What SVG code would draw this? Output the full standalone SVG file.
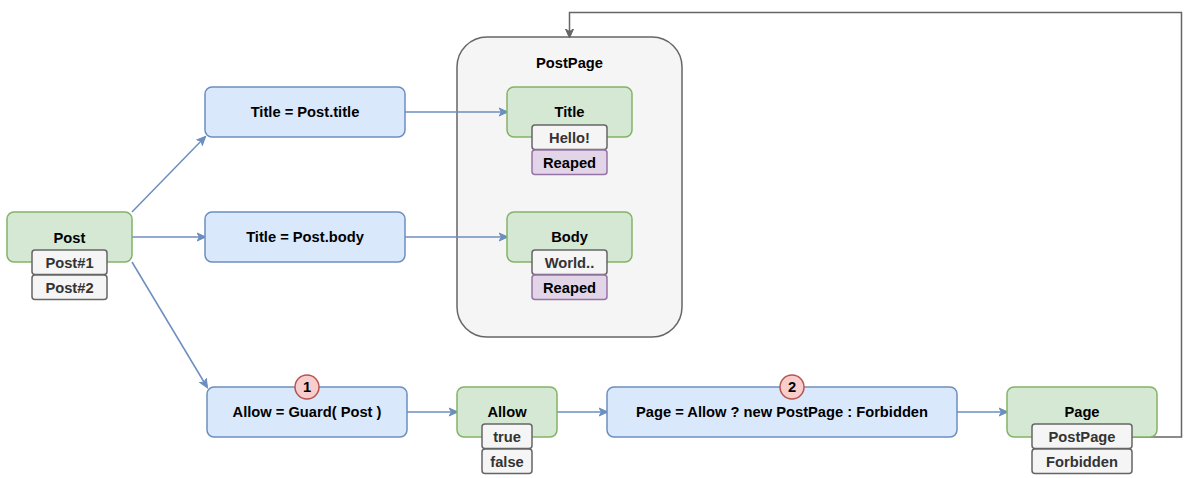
<svg xmlns="http://www.w3.org/2000/svg" width="1187" height="478" viewBox="0 0 1187 478">
<style>
text{font-family:"Liberation Sans",Arial,sans-serif;font-weight:bold;text-anchor:middle;dominant-baseline:central;}
.lbl{font-size:14.7px;fill:#000;}
.sm{font-size:14.7px;fill:#333;}
.blue{fill:#dae8fc;stroke:#6c8ebf;stroke-width:1.5;}
.green{fill:#d5e8d4;stroke:#82b366;stroke-width:1.5;}
.gray{fill:#f5f5f5;stroke:#666;stroke-width:1.5;}
.purple{fill:#e1d5e7;stroke:#9673a6;stroke-width:1.5;}
.badge{fill:#f8cecc;stroke:#b85450;stroke-width:1.5;}
.conn{fill:none;stroke:#6c8ebf;stroke-width:1.5;marker-end:url(#ab);}
.loop{fill:none;stroke:#666;stroke-width:1.5;marker-end:url(#ag);}
</style>
<defs>
<marker id="ab" markerWidth="10" markerHeight="10" refX="8" refY="5" orient="auto" markerUnits="userSpaceOnUse">
<path d="M0,1 L9,5 L0,9 L2.5,5 Z" fill="#6c8ebf" stroke="#6c8ebf" stroke-width="1"/>
</marker>
<marker id="ag" markerWidth="10" markerHeight="10" refX="8" refY="5" orient="auto" markerUnits="userSpaceOnUse">
<path d="M0,1 L9,5 L0,9 L2.5,5 Z" fill="#666" stroke="#666" stroke-width="1"/>
</marker>
</defs>
<rect width="1187" height="478" fill="#fff"/>

<g id="postpage-container">
<rect class="gray" x="457" y="37" width="225" height="300" rx="30"/>
<text class="lbl" x="569.5" y="63">PostPage</text>
</g>

<g id="connectors">
<path class="conn" d="M132,212 L205,137"/>
<path class="conn" d="M132,237 L205,237"/>
<path class="conn" d="M132,262 L207,387"/>
<path class="conn" d="M405,112 L507,112"/>
<path class="conn" d="M405,237 L507,237"/>
<path class="conn" d="M407,412 L457,412"/>
<path class="conn" d="M557,412 L607,412"/>
<path class="conn" d="M957,412 L1007,412"/>
<path class="loop" d="M1132,437 L1181.5,437 L1181.5,12.5 L569.5,12.5 L569.5,37"/>
</g>

<g id="post">
<rect class="green" x="7" y="212" width="125" height="50" rx="7"/>
<text class="lbl" x="69.5" y="238">Post</text>
<rect class="gray" x="32" y="250" width="75" height="24.5" rx="3"/>
<text class="sm" x="69.5" y="262.5">Post#1</text>
<rect class="gray" x="32" y="275" width="75" height="24.5" rx="3"/>
<text class="sm" x="69.5" y="287.5">Post#2</text>
</g>

<g id="title-expr">
<rect class="blue" x="205" y="87" width="200" height="50" rx="7"/>
<text class="lbl" x="305" y="112">Title = Post.title</text>
</g>

<g id="body-expr">
<rect class="blue" x="205" y="212" width="200" height="50" rx="7"/>
<text class="lbl" x="305" y="237">Title = Post.body</text>
</g>

<g id="title">
<rect class="green" x="507" y="87" width="125" height="50" rx="7"/>
<text class="lbl" x="569.5" y="112">Title</text>
<rect class="gray" x="532" y="125" width="75" height="24.5" rx="3"/>
<text class="sm" x="569.5" y="137.5">Hello!</text>
<rect class="purple" x="532" y="150" width="75" height="24.5" rx="3"/>
<text class="lbl" x="569.5" y="162.5">Reaped</text>
</g>

<g id="body">
<rect class="green" x="507" y="212" width="125" height="50" rx="7"/>
<text class="lbl" x="569.5" y="237">Body</text>
<rect class="gray" x="532" y="250" width="75" height="24.5" rx="3"/>
<text class="sm" x="569.5" y="262.5">World..</text>
<rect class="purple" x="532" y="275" width="75" height="24.5" rx="3"/>
<text class="lbl" x="569.5" y="287.5">Reaped</text>
</g>

<g id="guard">
<rect class="blue" x="207" y="387" width="200" height="50" rx="7"/>
<text class="lbl" x="307" y="412">Allow = Guard( Post )</text>
<circle class="badge" cx="307" cy="387" r="12"/>
<text class="lbl" x="307" y="387">1</text>
</g>

<g id="allow">
<rect class="green" x="457" y="387" width="100" height="50" rx="7"/>
<text class="lbl" x="507" y="412">Allow</text>
<rect class="gray" x="482" y="424" width="50" height="24.5" rx="3"/>
<text class="sm" x="507" y="436.5">true</text>
<rect class="gray" x="482" y="449" width="50" height="24.5" rx="3"/>
<text class="sm" x="507" y="461.5">false</text>
</g>

<g id="page-expr">
<rect class="blue" x="607" y="387" width="350" height="50" rx="7"/>
<text class="lbl" x="782" y="412">Page = Allow ? new PostPage : Forbidden</text>
<circle class="badge" cx="792" cy="387" r="12"/>
<text class="lbl" x="792" y="387">2</text>
</g>

<g id="page">
<rect class="green" x="1007" y="387" width="150" height="50" rx="7"/>
<text class="lbl" x="1082" y="412">Page</text>
<rect class="gray" x="1032" y="424" width="100" height="24.5" rx="3"/>
<text class="sm" x="1082" y="436.5">PostPage</text>
<rect class="gray" x="1032" y="449" width="100" height="24.5" rx="3"/>
<text class="sm" x="1082" y="461.5">Forbidden</text>
</g>
</svg>
